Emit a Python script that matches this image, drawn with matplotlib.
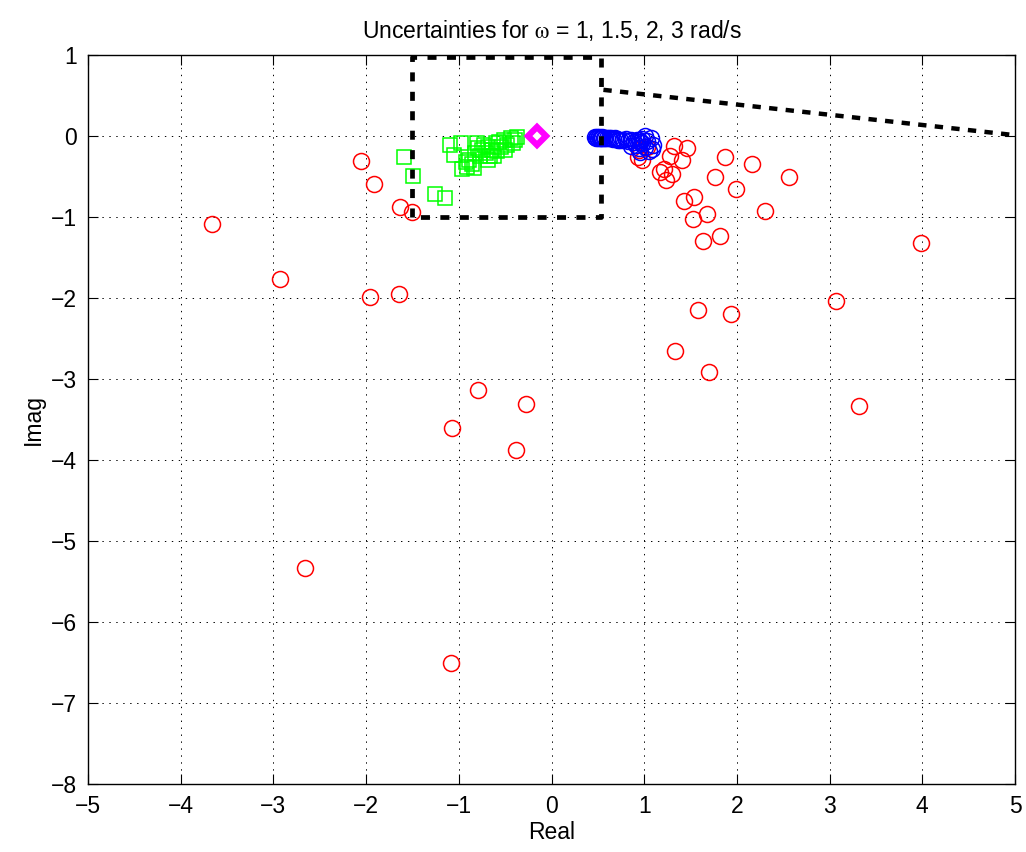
#!/usr/bin/env python3

import matplotlib
matplotlib.use("Agg")
import matplotlib.pyplot as plt
import numpy as np

# uncertainty samples in the complex plane, one group per frequency
red_re = [-3.66, -2.93, -1.96, -1.64, -2.66, -2.05, -1.91, -1.63, -1.50, -0.79,
          -1.07, -0.28, -0.38, -1.08,
          3.99, 3.07, 3.32, 2.56, 2.30, 1.99, 2.16, 1.87, 1.76, 1.82, 1.68, 1.58,
          1.94, 1.33, 1.70,
          1.32, 1.46, 1.28, 1.41, 1.17, 1.21, 1.30, 1.24, 1.54, 1.43, 1.53, 1.63,
          0.93, 0.98, 0.94, 1.03]
red_im = [-1.09, -1.76, -1.99, -1.95, -5.33, -0.31, -0.59, -0.88, -0.94, -3.14,
          -3.61, -3.31, -3.88, -6.50,
          -1.32, -2.04, -3.33, -0.50, -0.92, -0.66, -0.35, -0.26, -0.50, -1.23,
          -0.96, -2.15, -2.20, -2.66, -2.91,
          -0.12, -0.15, -0.245, -0.30, -0.45, -0.41, -0.47, -0.545, -0.75, -0.80,
          -1.02, -1.30,
          -0.26, -0.30, -0.17, -0.13]

green_re = [-1.59, -1.49, -1.26, -1.15, -1.10, -0.98, -1.05, -0.97, -0.91, -0.92,
            -0.86, -0.80, -0.75, -0.77, -0.71, -0.68, -0.66, -0.60, -0.585, -0.55,
            -0.51, -0.48, -0.44, -0.39, -0.37, -0.82, -0.79, -0.73, -0.64, -0.57,
            -0.50, -0.42, -0.89, -0.84, -0.69, -0.62]
green_im = [-0.26, -0.49, -0.71, -0.76, -0.11, -0.09, -0.235, -0.41, -0.38, -0.32,
            -0.34, -0.09, -0.17, -0.25, -0.21, -0.13, -0.25, -0.09, -0.19, -0.13,
            -0.05, -0.11, -0.03, -0.05, -0.01, -0.21, -0.15, -0.11, -0.17, -0.07,
            -0.17, -0.09, -0.30, -0.40, -0.30, -0.25]

blue_re = [0.47, 0.48, 0.49, 0.50, 0.51, 0.52, 0.53, 0.54, 0.55, 0.57, 0.58, 0.60,
           0.62, 0.64, 0.66, 0.68, 0.70, 0.72, 0.74, 0.77, 0.80, 0.83, 0.86, 0.89,
           0.92, 0.94, 0.96, 0.98, 1.01, 1.03, 1.07, 1.10, 0.91, 0.94, 0.98, 1.01,
           1.05, 0.86, 0.95, 1.08]
blue_im = [-0.01, -0.02, -0.01, -0.02, -0.01, -0.02, -0.02, -0.01, -0.02, -0.02,
           -0.03, -0.02, -0.03, -0.03, -0.04, -0.03, -0.04, -0.05, -0.05, -0.05,
           -0.04, -0.06, -0.05, -0.07, -0.05, -0.05, -0.08, -0.04, 0.0, -0.06,
           -0.03, -0.11, -0.11, -0.15, -0.09, -0.13, -0.19, -0.12, -0.20, -0.16]

nominal = (-0.16, 0.0)

# bounding region (dashed)
box_re = [-1.5, -1.5, 0.53, 0.53, -1.5]
box_im = [-1.0, 0.97, 0.97, -1.0, -1.0]
ray_re = [0.56, 5.0]
ray_im = [0.57, 0.01]

plt.rcParams["font.family"] = ["Liberation Sans", "DejaVu Sans"]
plt.rcParams["mathtext.fontset"] = "stix"
plt.rcParams["lines.scale_dashes"] = False

fig = plt.figure(figsize=(10.26, 8.52), dpi=100)
ax = fig.add_axes([88 / 1026, 1 - 784 / 852, 927 / 1026, 729 / 852])

ax.plot(red_re, red_im, "o", color=(1, 0, 0), mfc="none", ms=11.5, mew=1.1,
        linestyle="none")
ax.plot(blue_re, blue_im, "o", color=(0, 0, 1), mfc="none", ms=11.5, mew=1.1,
        linestyle="none")
ax.plot(green_re, green_im, "s", color=(0, 1, 0), mfc="none", ms=9.5, mew=1.1,
        linestyle="none")
ax.plot(*nominal, "D", color=(1, 0, 1), mfc="white", ms=9, mew=4.5)

ax.plot(box_re, box_im, color="k", lw=3.4, dashes=(6.5, 7.5))
ax.plot(ray_re, ray_im, color="k", lw=3.2, dashes=(6.0, 6.0))

ax.set_xlim(-5, 5)
ax.set_ylim(-8, 1)
ax.set_xticks(np.arange(-5, 6, 1))
ax.set_yticks(np.arange(-8, 2, 1))
ax.set_xticklabels([f"{v:d}".replace("-", "\u2212") for v in range(-5, 6)])
ax.set_yticklabels([f"{v:d}".replace("-", "\u2212") for v in range(-8, 2)])
ax.tick_params(direction="in", length=7, width=0.8, top=True, right=True,
               labelsize=16.5, pad=8)
ax.grid(True, color="k", linestyle=(0, (1, 4)), linewidth=0.7)
for s in ax.spines.values():
    s.set_linewidth(1.0)

ax.set_title(r"Uncertainties for $\mathrm{\omega}$ = 1, 1.5, 2, 3 rad/s",
             fontsize=16.5, pad=12)
ax.set_xlabel("Real", fontsize=16.5, labelpad=2)
ax.set_ylabel("Imag", fontsize=16.5, labelpad=4)

plt.savefig("out.png", dpi=100)
